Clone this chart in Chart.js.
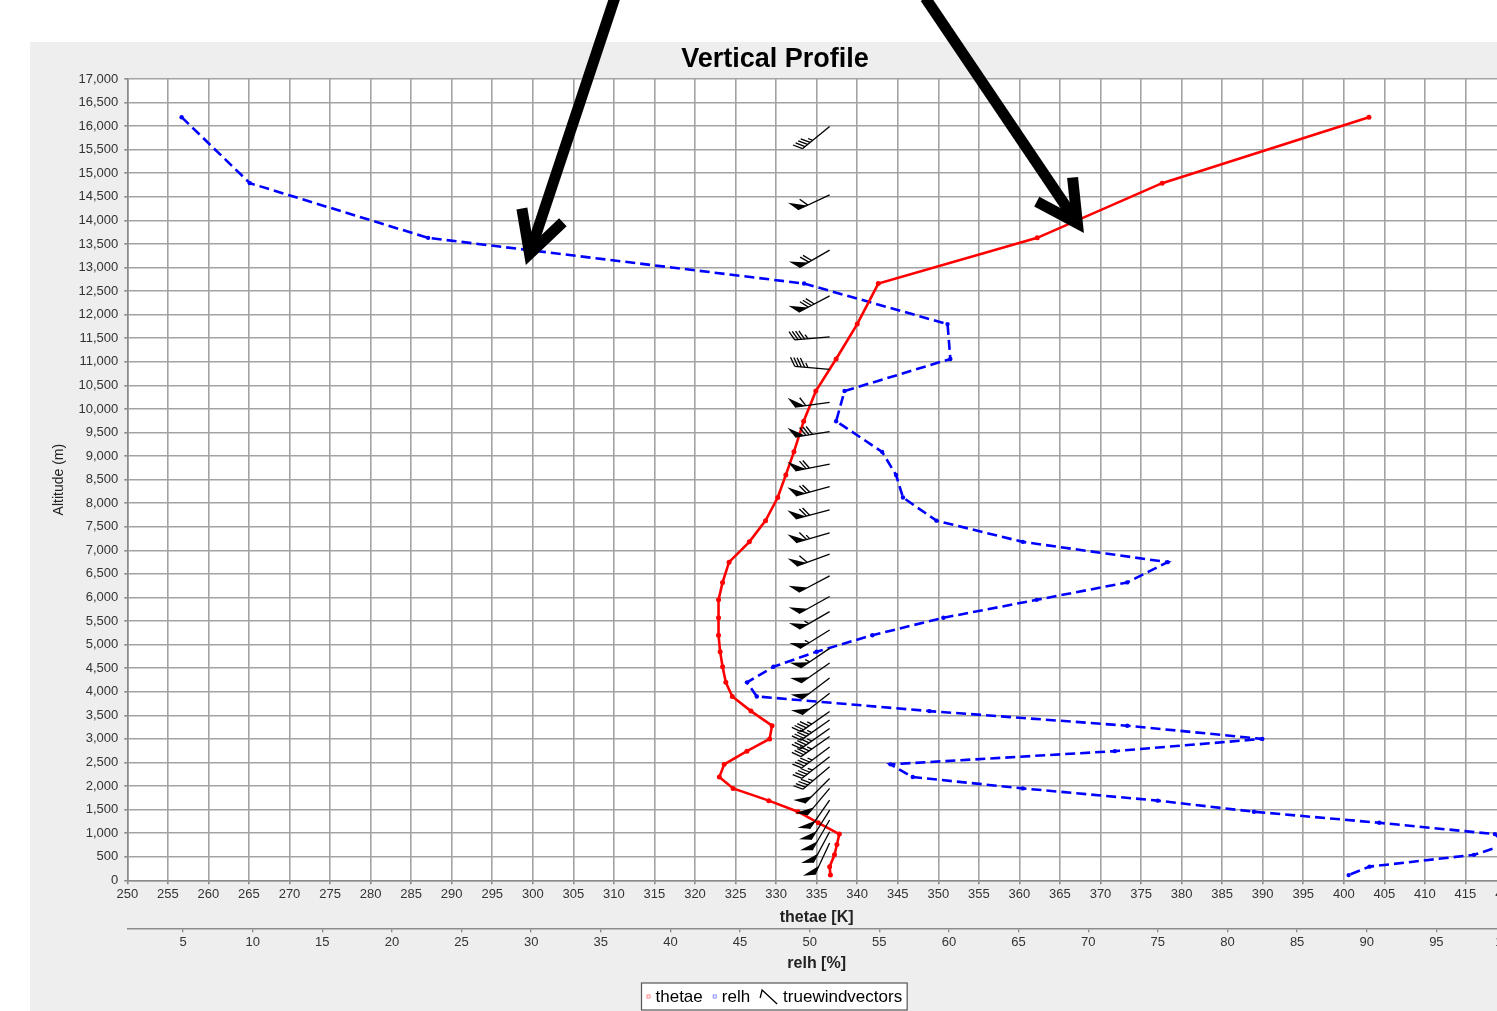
<!DOCTYPE html>
<html>
<head>
<meta charset="utf-8">
<title>Vertical Profile</title>
<script src="https://cdn.jsdelivr.net/npm/chart.js@4.4.1/dist/chart.umd.min.js"></script>
<style>
  html, body { margin: 0; padding: 0; overflow: hidden; background: #ffffff; }
  #wrap { position: absolute; left: 0; top: 0; width: 1526px; height: 1011px; }
</style>
</head>
<body>
<div id="wrap"><canvas id="profile" width="1526" height="1011"></canvas></div>
<script>
// Sounding levels shared by thetae and relative humidity (m)
const altitudes = [16190, 14790, 13630, 12660, 11800, 11060, 10380, 9740, 9090, 8600,
                   8120, 7630, 7180, 6750, 6320, 5950, 5570, 5200, 4850, 4530,
                   4200, 3900, 3590, 3280, 3000, 2740, 2460, 2190, 1950, 1690,
                   1455, 1220, 980, 760, 540, 290, 110];
// Equivalent potential temperature (K)
const thetae = [403.1, 377.6, 362.2, 342.6, 340.0, 337.4, 334.9, 333.4, 332.2, 331.2,
                330.2, 328.7, 326.7, 324.2, 323.4, 322.9, 322.9, 322.9, 323.1, 323.4,
                323.8, 324.6, 326.9, 329.5, 329.2, 326.4, 323.6, 323.0, 324.7, 329.1,
                332.7, 335.2, 337.8, 337.5, 337.2, 336.6, 336.7];
// Relative humidity (%)
const relh = [4.9, 9.8, 22.6, 49.6, 59.9, 60.1, 52.5, 51.9, 55.2, 56.2,
              56.7, 59.1, 65.3, 75.7, 72.8, 66.3, 59.6, 54.5, 50.5, 47.4,
              45.5, 46.2, 58.6, 72.8, 82.5, 71.9, 55.8, 57.4, 65.3, 75.0,
              81.9, 90.9, 99.2, 100.0, 97.7, 90.2, 88.7];

// Wind levels (m), direction the wind blows from (deg) and speed (kt)
const windAltitudes = [15990, 14540, 13370, 12400, 11530, 10840, 10140, 9520, 8830, 8350,
                       7860, 7370, 6920, 6460, 6020, 5700, 5310, 4920, 4610, 4290,
                       3970, 3580, 3400, 3220, 3050, 2830, 2620, 2410, 2160, 1950,
                       1700, 1490, 1280, 1030, 790];
const windDirections = [231, 245, 240, 242, 265, 275, 262, 261, 259, 255,
                        255, 254, 250, 242, 241, 240, 238, 236, 235, 233,
                        232, 235, 235, 235, 235, 233, 232, 230, 225, 220,
                        215, 212, 210, 208, 205];
const windSpeeds = [45, 60, 70, 80, 45, 45, 60, 80, 70, 70,
                    70, 65, 60, 50, 50, 55, 55, 55, 50, 50,
                    50, 45, 45, 45, 45, 45, 45, 45, 50, 50,
                    50, 50, 50, 50, 50];
// Barb stations sit on this thetae column
const windColumnTheta = 336.6;

// Axis ranges and tick steps
const thetaeRange = [250, 420];
const relhRange = [1, 100];
const altitudeRange = [0, 17000];
const thetaeStep = 5, relhStep = 5, altitudeStep = 500;

// Two hand-drawn pointer arrows, given in (thetae, altitude) coordinates
const pointerArrows = [
  { tail: [310.1, 18720], tip: [299.6, 13290] },
  { tail: [348.4, 18720], tip: [367.15, 13940] }
];

const FONT = '"Liberation Sans", Arial, sans-serif';
const GRID = '#a3a3a3';

// Page backdrop: white margin, light grey panel, white plot area
const backdrop = {
  id: 'backdrop',
  beforeDraw(chart) {
    const { ctx, chartArea: a } = chart;
    ctx.save();
    ctx.fillStyle = '#ffffff';
    ctx.fillRect(0, 0, chart.width, chart.height);
    ctx.fillStyle = '#eeeeee';
    ctx.fillRect(30, 42, chart.width - 30, chart.height - 42);
    ctx.fillStyle = '#ffffff';
    ctx.fillRect(a.left, a.top, a.right - a.left, a.bottom - a.top);
    ctx.restore();
  }
};

// One wind barb: shaft from the station toward the wind source, flags/feathers at the far end
function drawBarb(ctx, px, py, dirDeg, speed, len) {
  const r = dirDeg * Math.PI / 180;
  const u = { x: Math.sin(r), y: -Math.cos(r) };
  const n = { x: -u.y, y: u.x };
  const f = { x: n.x * 0.87 + u.x * 0.5, y: n.y * 0.87 + u.y * 0.5 };
  let rest = Math.round(speed / 5) * 5;
  const flags = Math.floor(rest / 50); rest -= flags * 50;
  const full = Math.floor(rest / 10); rest -= full * 10;
  const half = rest >= 5 ? 1 : 0;

  ctx.beginPath();
  ctx.moveTo(px, py);
  ctx.lineTo(px + u.x * len, py + u.y * len);
  ctx.stroke();

  let pos = len;
  for (let i = 0; i < flags; i++) {
    const ax = px + u.x * pos, ay = py + u.y * pos;
    const bx = px + u.x * (pos - 10), by = py + u.y * (pos - 10);
    ctx.beginPath();
    ctx.moveTo(ax, ay);
    ctx.lineTo(bx, by);
    ctx.lineTo(ax + f.x * 12, ay + f.y * 12);
    ctx.closePath();
    ctx.fill();
    pos -= 11;
  }
  for (let i = 0; i < full + half; i++) {
    const l = i < full ? 10 : 5;
    const ax = px + u.x * pos, ay = py + u.y * pos;
    ctx.beginPath();
    ctx.moveTo(ax, ay);
    ctx.lineTo(ax + f.x * l, ay + f.y * l);
    ctx.stroke();
    pos -= 3.3;
  }
}

const windBarbs = {
  id: 'windBarbs',
  afterDatasetsDraw(chart) {
    const ds = chart.data.datasets.find(d => d.barbs);
    if (!ds) return;
    const xs = chart.scales[ds.xAxisID], ys = chart.scales[ds.yAxisID];
    const ctx = chart.ctx;
    ctx.save();
    ctx.strokeStyle = '#000';
    ctx.fillStyle = '#000';
    ctx.lineWidth = 1.3;
    ctx.lineCap = 'butt';
    ds.data.forEach((p, i) => {
      drawBarb(ctx, xs.getPixelForValue(p.x), ys.getPixelForValue(p.y),
               windDirections[i], windSpeeds[i], 35);
    });
    ctx.restore();
  }
};

// Legend drawn as a framed row under the axes
const framedLegend = {
  id: 'framedLegend',
  afterDraw(chart) {
    const ctx = chart.ctx;
    const sets = chart.data.datasets;
    ctx.save();
    ctx.font = '17px ' + FONT;
    ctx.textBaseline = 'middle';
    const markerW = s => (s.barbs ? 18 : 4);
    const gap = 5, itemGap = 10, pad = 5;
    let total = pad * 2;
    sets.forEach((s, i) => {
      total += markerW(s) + gap + ctx.measureText(s.label).width + (i ? itemGap : 0);
    });
    const tb = chart.titleBlock;
    const cx = (tb.left + tb.right) / 2 - 1;
    const top = chart.scales.x2.bottom + 4.7, h = 27;
    let x = Math.round(cx - total / 2) + 0.5;
    ctx.fillStyle = '#ffffff';
    ctx.fillRect(x, top, total, h);
    ctx.strokeStyle = '#555';
    ctx.lineWidth = 1.2;
    ctx.strokeRect(x, top, total, h);
    const cy = top + h / 2 + 0.5;
    x += pad;
    sets.forEach((s, i) => {
      if (i) x += itemGap;
      if (s.barbs) {
        ctx.strokeStyle = '#000';
        ctx.lineWidth = 1.3;
        ctx.beginPath();
        ctx.moveTo(x + 17, cy + 7);
        ctx.lineTo(x + 2, cy - 7);
        ctx.lineTo(x, cy + 1);
        ctx.stroke();
      } else {
        ctx.strokeStyle = s.legendTint;
        ctx.lineWidth = 1;
        ctx.strokeRect(x + 0.5, cy - 2, 3, 3);
      }
      x += markerW(s) + gap;
      ctx.fillStyle = '#000';
      ctx.fillText(s.label, x, cy);
      x += ctx.measureText(s.label).width;
    });
    ctx.restore();
  }
};

// Annotation arrows drawn over everything
const pointers = {
  id: 'pointers',
  afterDraw(chart) {
    const xs = chart.scales.x, ys = chart.scales.y, ctx = chart.ctx;
    ctx.save();
    ctx.strokeStyle = '#000';
    ctx.lineWidth = 11;
    ctx.lineCap = 'butt';
    ctx.lineJoin = 'miter';
    pointerArrows.forEach(a => {
      const tx = xs.getPixelForValue(a.tail[0]), ty = ys.getPixelForValue(a.tail[1]);
      const hx = xs.getPixelForValue(a.tip[0]), hy = ys.getPixelForValue(a.tip[1]);
      const ang = Math.atan2(ty - hy, tx - hx);
      const head = 46, spread = 28 * Math.PI / 180;
      ctx.beginPath();
      ctx.moveTo(tx, ty);
      ctx.lineTo(hx, hy);
      ctx.stroke();
      ctx.beginPath();
      ctx.moveTo(hx + head * Math.cos(ang + spread), hy + head * Math.sin(ang + spread));
      ctx.lineTo(hx, hy);
      ctx.lineTo(hx + head * Math.cos(ang - spread), hy + head * Math.sin(ang - spread));
      ctx.stroke();
    });
    ctx.restore();
  }
};

const tickFont = { family: FONT, size: 13 };
const titleFont = { family: FONT, size: 16, weight: 'bold' };

new Chart(document.getElementById('profile'), {
  type: 'scatter',
  data: {
    datasets: [
      {
        label: 'thetae',
        data: altitudes.map((a, i) => ({ x: thetae[i], y: a })),
        xAxisID: 'x', yAxisID: 'y',
        showLine: true,
        borderColor: '#ff0000',
        backgroundColor: '#ff0000',
        borderWidth: 2.6,
        pointRadius: 2.5,
        pointBorderWidth: 0,
        legendTint: 'rgba(255,80,80,0.7)'
      },
      {
        label: 'relh',
        data: altitudes.map((a, i) => ({ x: relh[i], y: a })),
        xAxisID: 'x2', yAxisID: 'y',
        showLine: true,
        borderColor: '#0000ff',
        backgroundColor: '#0000ff',
        borderWidth: 2.6,
        borderDash: [10, 5],
        pointRadius: 2.2,
        pointBorderWidth: 0,
        legendTint: 'rgba(90,90,255,0.7)'
      },
      {
        label: 'truewindvectors',
        data: windAltitudes.map(a => ({ x: windColumnTheta, y: a })),
        xAxisID: 'x', yAxisID: 'y',
        showLine: false,
        pointRadius: 0,
        barbs: true
      }
    ]
  },
  options: {
    responsive: false,
    animation: false,
    devicePixelRatio: 1,
    layout: { padding: { top: 42, left: 44, right: 20, bottom: 32.7 } },
    plugins: {
      legend: { display: false },
      tooltip: { enabled: false },
      title: {
        display: true,
        text: 'Vertical Profile',
        color: '#000',
        font: { family: FONT, size: 27, weight: 'bold' },
        padding: { top: 1.5, bottom: 3.1 }
      }
    },
    scales: {
      x: {
        type: 'linear', position: 'bottom', weight: 1,
        min: thetaeRange[0], max: thetaeRange[1],
        ticks: { stepSize: thetaeStep, maxTicksLimit: 1000, autoSkip: false, maxRotation: 0,
                 includeBounds: false, font: tickFont, color: '#333', padding: 2 },
        grid: { color: GRID, lineWidth: 1.6, tickLength: 4, tickColor: '#8c8c8c' },
        border: { color: '#8c8c8c', width: 1.6 },
        title: { display: true, text: 'thetae [K]', font: titleFont, color: '#222',
                 padding: { top: 0, bottom: 1.5 } },
        afterFit(s) { s.height = 48; }
      },
      x2: {
        type: 'linear', position: 'bottom', weight: 2,
        min: relhRange[0], max: relhRange[1],
        ticks: { stepSize: relhStep, maxTicksLimit: 1000, autoSkip: false, maxRotation: 0,
                 includeBounds: false, font: tickFont, color: '#333', padding: 2 },
        grid: { drawOnChartArea: false, tickLength: 4, color: '#8c8c8c', lineWidth: 1.4 },
        border: { color: '#8c8c8c', width: 1.4 },
        title: { display: true, text: 'relh [%]', font: titleFont, color: '#222',
                 padding: { top: 0, bottom: 5.4 } },
        afterFit(s) { s.height = 50; }
      },
      y: {
        type: 'linear', position: 'left',
        min: altitudeRange[0], max: altitudeRange[1],
        ticks: { stepSize: altitudeStep, maxTicksLimit: 1000, autoSkip: false,
                 includeBounds: false, font: tickFont, color: '#333', padding: 6 },
        grid: { color: GRID, lineWidth: 1.6, tickLength: 3, tickColor: '#8c8c8c' },
        border: { color: '#8c8c8c', width: 1.6 },
        title: { display: true, text: 'Altitude (m)', font: { family: FONT, size: 14 },
                 color: '#222', padding: { top: 6.5, bottom: 0 } },
        afterFit(s) { s.width = 83.3; }
      }
    }
  },
  plugins: [backdrop, windBarbs, framedLegend, pointers]
});
</script>
</body>
</html>
